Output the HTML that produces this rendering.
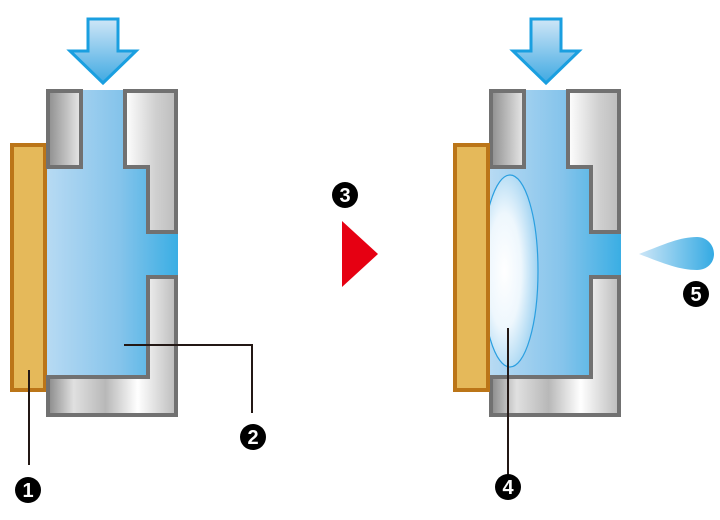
<!DOCTYPE html>
<html><head><meta charset="utf-8"><style>
html,body{margin:0;padding:0;background:#fff;width:720px;height:520px;overflow:hidden}
svg{display:block}
text{font-family:"Liberation Sans",sans-serif;font-weight:bold;fill:#fff}
</style></head><body>
<svg width="720" height="520" viewBox="0 0 720 520" xmlns="http://www.w3.org/2000/svg">
<defs>
<linearGradient id="blue" x1="0" x2="1" y1="0" y2="0">
<stop offset="0" stop-color="#b7daf3"/><stop offset="0.55" stop-color="#86c4eb"/><stop offset="1" stop-color="#3aaee4"/></linearGradient>
<linearGradient id="arr" x1="0" x2="0" y1="0" y2="1">
<stop offset="0" stop-color="#cfe6f7"/><stop offset="1" stop-color="#3fa9e2"/></linearGradient>
<linearGradient id="gL" x1="0" x2="1"><stop offset="0" stop-color="#8e8e8e"/><stop offset="1" stop-color="#e8e8e8"/></linearGradient>
<linearGradient id="gR" x1="0" x2="1"><stop offset="0" stop-color="#ffffff"/><stop offset="0.6" stop-color="#d0d0d0"/><stop offset="1" stop-color="#bdbdbd"/></linearGradient>
<linearGradient id="gB" x1="0" x2="1"><stop offset="0" stop-color="#8a8a8a"/><stop offset="0.2" stop-color="#e0e0e0"/><stop offset="0.45" stop-color="#b8b8b8"/><stop offset="0.7" stop-color="#ffffff"/><stop offset="1" stop-color="#bcbcbc"/></linearGradient>
<linearGradient id="drop" x1="0" x2="1"><stop offset="0" stop-color="#cde6f7"/><stop offset="1" stop-color="#34aae3"/></linearGradient>
<radialGradient id="bub" cx="0.4" cy="0.5" r="0.6"><stop offset="0" stop-color="#ffffff"/><stop offset="0.5" stop-color="#eef7fd"/><stop offset="1" stop-color="#9fd2f1"/></radialGradient>
<g id="unit">
<path d="M88,19 H118 V51 H136 L103,83 L70,51 H88 Z" fill="url(#arr)" stroke="#1a9fe0" stroke-width="3"/>
<path d="M82,90 H124 V169 H146 V234 H178 V275 H146 V377 H47 V169 H82 Z" fill="url(#blue)"/>
<rect x="12" y="145" width="33" height="245" fill="#e5b95a" stroke="#bb7518" stroke-width="4"/>
<rect x="48" y="91" width="33" height="76" fill="url(#gL)" stroke="#717171" stroke-width="4"/>
<path d="M125,91 H176 V232 H148 V167 H125 Z" fill="url(#gR)" stroke="#717171" stroke-width="4"/>
<path d="M148,277 H176 V415 H48 V377 H148 Z" fill="url(#gB)" stroke="#717171" stroke-width="4"/>
</g>
</defs>
<use href="#unit"/>
<use href="#unit" transform="translate(443,0)"/>
<clipPath id="cp"><rect x="490" y="150" width="60" height="240"/></clipPath>
<ellipse cx="510" cy="271" rx="28" ry="96" fill="url(#bub)" stroke="#2a9fe0" stroke-width="1.2" clip-path="url(#cp)"/>
<rect x="455" y="145" width="33" height="245" fill="#e5b95a" stroke="#bb7518" stroke-width="4"/>
<path d="M342,221 L378,254 L342,287 Z" fill="#e60012"/>
<path d="M639,254 C665,244 680,237 697,237 C707,237 714,245 714,254 C714,263 707,270 697,270 C680,270 665,264 639,254 Z" fill="url(#drop)"/>
<g stroke="#231815" stroke-width="2" fill="none">
<path d="M29,370 V465"/>
<path d="M124,345 H252 V413"/>
<path d="M508,328 V476"/>
</g>
<g font-size="20" text-anchor="middle">
<circle cx="28" cy="490" r="13" fill="#000"/><text x="28" y="497">1</text>
<circle cx="253" cy="437" r="13" fill="#000"/><text x="253" y="444">2</text>
<circle cx="345" cy="195" r="13" fill="#000"/><text x="345" y="202">3</text>
<circle cx="508" cy="487" r="13" fill="#000"/><text x="508" y="494">4</text>
<circle cx="696" cy="294" r="13" fill="#000"/><text x="696" y="301">5</text>
</g>
</svg>
</body></html>
